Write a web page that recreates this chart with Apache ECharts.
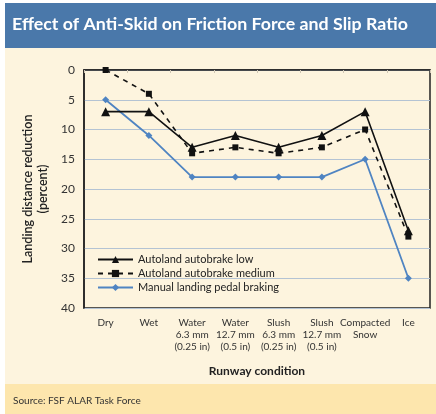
<!DOCTYPE html>
<html>
<head>
<meta charset="utf-8">
<script src="https://cdn.jsdelivr.net/npm/echarts@6/dist/echarts.min.js"></script>
<style>
  html, body { margin: 0; padding: 0; background: #fff; }
  #chart { width: 436px; height: 414px; }
</style>
</head>
<body>
<div id="chart"></div>
<script>
// runway conditions (x axis)
var categories = ['Dry', 'Wet', 'Water\n6.3 mm\n(0.25 in)', 'Water\n12.7 mm\n(0.5 in)',
  'Slush\n6.3 mm\n(0.25 in)', 'Slush\n12.7 mm\n(0.5 in)', 'Compacted\nSnow', 'Ice']
// landing distance reduction (percent)
var autobrakeLow = [7, 7, 13, 11, 13, 11, 7, 27]
var autobrakeMedium = [0, 4, 14, 13, 14, 13, 10, 28]
var manualBraking = [5, 11, 18, 18, 18, 18, 15, 35]
var yTicks = [0, 5, 10, 15, 20, 25, 30, 35, 40]

var body = 'Lato, "Open Sans", sans-serif'

var myChart = echarts.init(document.getElementById('chart'))

var option = {
  backgroundColor: '#ffffff',
  animation: false,
  graphic: [
    { type: 'rect', z: -10, shape: { x: 5, y: 48, width: 431, height: 336 }, style: { fill: '#fdf4de' } },
    { type: 'rect', z: -10, shape: { x: 5, y: 3, width: 431, height: 45 }, style: { fill: '#4a78aa' } },
    { type: 'rect', z: -10, shape: { x: 5, y: 384, width: 431, height: 30 }, style: { fill: '#fde6ad' } }
  ],
  title: [{
    text: 'Effect of Anti-Skid on Friction Force and Slip Ratio',
    left: 12,
    top: 15,
    padding: 0,
    textStyle: { color: '#ffffff', fontFamily: body, fontWeight: 'bold', fontSize: 17.8 }
  }, {
    text: 'Source: FSF ALAR Task Force',
    left: 13,
    top: 396,
    padding: 0,
    textStyle: { color: '#333333', fontFamily: body, fontWeight: 'normal', fontSize: 10 }
  }],
  legend: {
    orient: 'vertical',
    left: 97,
    top: 254,
    padding: 0,
    itemWidth: 35,
    itemHeight: 9,
    itemGap: 3,
    textStyle: { color: '#222', fontFamily: body, fontSize: 11 },
    data: ['Autoland autobrake low', 'Autoland autobrake medium', 'Manual landing pedal braking']
  },
  grid: {
    left: 84,
    top: 70,
    right: 6,
    bottom: 106,
    show: true,
    borderColor: '#222',
    borderWidth: 1.5,
    backgroundColor: 'transparent'
  },
  xAxis: {
    type: 'category',
    data: categories,
    boundaryGap: true,
    name: 'Runway condition',
    nameLocation: 'middle',
    nameGap: 57,
    nameTextStyle: { color: '#222', fontFamily: body, fontWeight: 'bold', fontSize: 12 },
    axisLine: { lineStyle: { color: '#222', width: 1.5 } },
    axisTick: { show: true, length: 3, lineStyle: { color: '#cfc6b4' } },
    axisLabel: {
      color: '#333', fontFamily: body, fontSize: 10, lineHeight: 12, margin: 9, interval: 0
    }
  },
  yAxis: {
    type: 'value',
    inverse: true,
    min: yTicks[0],
    max: yTicks[yTicks.length - 1],
    interval: 5,
    name: 'Landing distance reduction\n(percent)',
    nameLocation: 'middle',
    nameRotate: 90,
    nameGap: 31,
    nameTextStyle: { color: '#222', fontFamily: body, fontWeight: 600, fontSize: 12.5, lineHeight: 15 },
    axisLine: { show: true, lineStyle: { color: '#222', width: 1.5 } },
    axisTick: { show: false },
    axisLabel: { color: '#333', fontFamily: body, fontSize: 12, margin: 9 },
    splitLine: { lineStyle: { color: '#b4c3d3', width: 1.2 } }
  },
  series: [{
    name: 'Autoland autobrake low',
    type: 'line',
    data: autobrakeLow,
    symbol: 'triangle',
    symbolSize: 9,
    itemStyle: { color: '#111' },
    lineStyle: { color: '#111', width: 1.6 },
    z: 4
  }, {
    name: 'Autoland autobrake medium',
    type: 'line',
    data: autobrakeMedium,
    symbol: 'rect',
    symbolSize: 6,
    itemStyle: { color: '#111' },
    lineStyle: { color: '#111', width: 1.6, type: [5, 5] },
    z: 3
  }, {
    name: 'Manual landing pedal braking',
    type: 'line',
    data: manualBraking,
    symbol: 'diamond',
    symbolSize: 7,
    itemStyle: { color: '#4f84c2' },
    lineStyle: { color: '#4f84c2', width: 1.8 },
    z: 2
  }]
}

myChart.setOption(option)
</script>
</body>
</html>
